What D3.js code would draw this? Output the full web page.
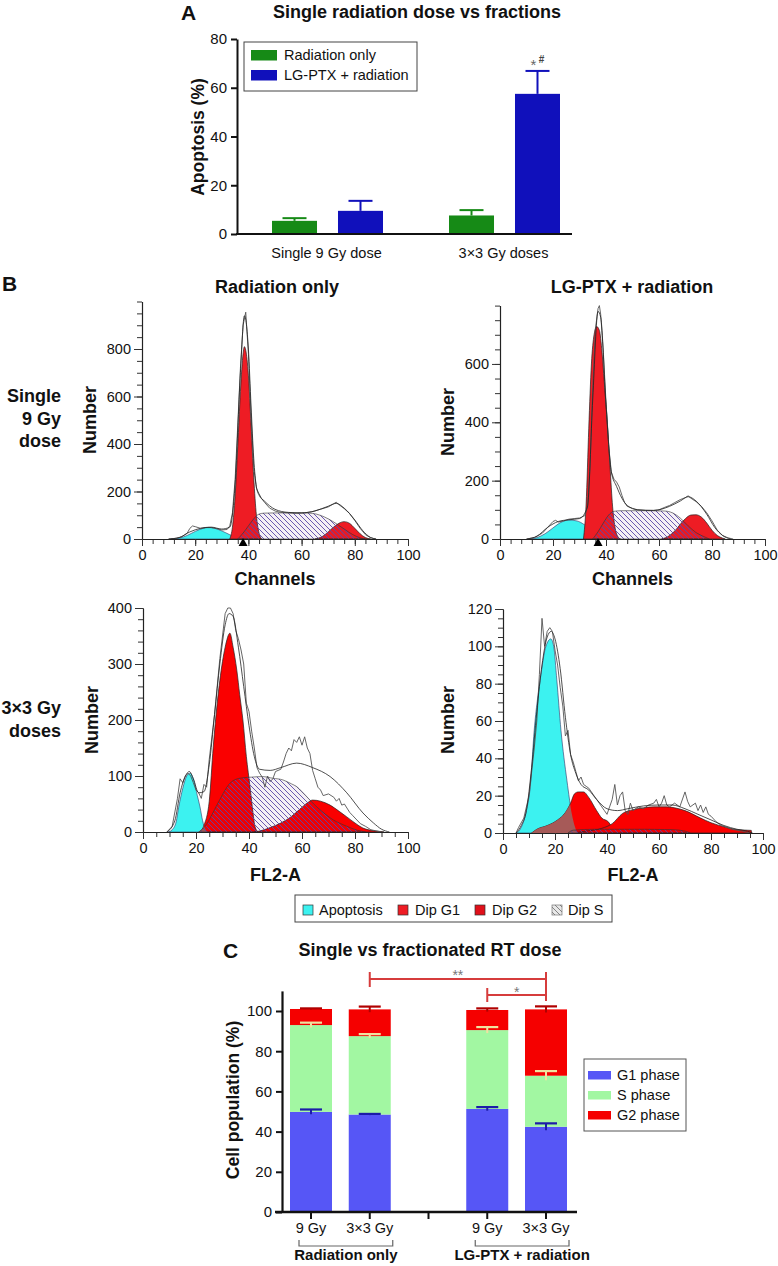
<!DOCTYPE html>
<html><head><meta charset="utf-8">
<script src="https://cdn.jsdelivr.net/npm/d3@7"></script>
<style>body{margin:0;background:#fff}</style>
</head><body>
<svg id="c" width="778" height="1266"></svg>
<script>
// ================= DATA =================
// Panel A
const aGroups = ["Single 9 Gy dose", "3×3 Gy doses"];
const aSeries = ["Radiation only", "LG-PTX + radiation"];
const aRadOnly = [5.4, 7.6];
const aRadOnlyErr = [1.1, 2.2];
const aLgPtx = [9.5, 57.5];
const aLgPtxErr = [4.1, 9.4];
const aTicks = [0, 20, 40, 60, 80];

// Panel B – histogram components [channel, count]
const bColTitles = ["Radiation only", "LG-PTX + radiation"];
const bLegend = ["Apoptosis", "Dip G1", "Dip G2", "Dip S"];
// Radiation only, single 9 Gy
const h1Apop = [[11,0],[14,4],[17,15],[20,32],[23,45],[25,49],[27,46],[30,34],[33,18],[35,8],[37,2],[39,0]];
const h1G1 = [[33,0],[34,50],[35,180],[36,390],[37,620],[38,780],[38.5,810],[39,795],[40,690],[41,480],[42,260],[43,100],[44,25],[45,0]];
const h1S = [[36,0],[38,25],[40,55],[42,85],[44,105],[46,109],[50,110],[55,110],[60,110],[64,108],[67,100],[70,85],[73,65],[76,42],[79,20],[82,5],[84,0]];
const h1G2 = [[65,0],[68,12],[70,30],[72,50],[74,66],[76,73],[78,66],[80,45],[82,22],[84,6],[86,0]];
const h1Raw = [[10,0],[13,3],[15,10],[17,25],[18,45],[19,55],[20,52],[22,45],[24,48],[26,48],[28,44],[30,38],[32,40],[33,55],[34,110],[35,250],[36,480],[37,720],[38,900],[39,955],[40,780],[41,520],[42,300],[43,215],[44,190],[45,170],[46,155],[48,130],[50,118],[52,112],[55,110],[58,108],[61,110],[64,115],[67,125],[70,135],[72,148],[73,155],[74,145],[76,128],[78,108],[80,78],[82,45],[84,18],[86,5],[88,0]];
const h1Fit = [[10,0],[14,6],[18,30],[22,45],[26,50],[30,42],[33,50],[35,230],[37,700],[38.5,940],[40,800],[41,560],[42,340],[43,220],[44,185],[46,160],[50,125],[55,112],[60,110],[65,118],[70,138],[73,150],[76,130],[80,80],[83,35],[86,6],[88,0]];
// LG-PTX + radiation, single 9 Gy
const h2Apop = [[11,0],[14,5],[17,18],[20,38],[23,57],[26,65],[29,62],[32,48],[35,25],[38,6],[40,0]];
const h2G1 = [[31.5,0],[32.5,120],[33.5,380],[34.5,600],[35.5,700],[36.5,728],[37.5,715],[38.5,640],[39.5,520],[40.5,400],[41.5,250],[42.5,110],[43.5,35],[44.5,8],[45.5,0]];
const h2S = [[35,0],[37,25],[39,55],[41,82],[43,95],[46,97],[55,97],[62,96],[65,90],[68,72],[71,45],[74,22],[77,8],[79,0]];
const h2G2 = [[61,0],[64,12],[66,28],[68,50],[70,70],[72,82],[74,83],[76,75],[78,55],[80,30],[82,12],[84,3],[85,0]];
const h2Raw = [[10,0],[13,5],[16,20],[18,40],[20,60],[21,64],[22,58],[24,62],[26,68],[28,70],[30,72],[32,80],[33,110],[34,250],[35,520],[36,720],[37,790],[37.5,800],[38,770],[39,640],[40,470],[41,320],[42,230],[43,205],[44,195],[45,178],[46,150],[47,125],[48,112],[50,105],[52,100],[55,98],[58,98],[60,100],[62,108],[64,115],[66,125],[68,135],[70,142],[71,148],[72,140],[74,128],[76,112],[78,90],[80,62],[82,30],[84,12],[86,4],[88,0]];
const h2Fit = [[10,0],[14,10],[18,40],[22,60],[26,66],[30,70],[33,110],[35,480],[37,780],[38,760],[40,460],[42,230],[44,180],[46,140],[48,115],[52,100],[58,98],[64,112],[68,130],[71,145],[74,130],[78,85],[81,40],[84,12],[87,0]];
// Radiation only, 3x3 Gy
const h3Apop = [[9.5,0],[11,4],[12.5,18],[13.5,45],[15,78],[16.5,100],[17.7,105],[19,95],[20.5,65],[21.5,45],[22.5,20],[23.5,5],[24.5,0]];
const h3G1 = [[21.5,0],[23,12],[25,55],[26.5,152],[28,230],[29,271],[31,330],[32.8,355],[34,330],[35.4,289],[36.5,245],[37.7,200],[39,135],[40.4,80],[41.5,35],[42.3,9],[43.5,0]];
const h3S = [[21,0],[23,8],[25,22],[27,40],[29,58],[31,75],[32.8,87],[35,94],[38,97],[41,98],[45,99],[49,96],[52.8,93],[56,86],[58,81],[60,72],[63,57],[66,43],[69,31],[72,21],[75,14],[78,8],[81,3],[84,0]];
const h3G2 = [[42,0],[45,3],[48,8],[52,16],[55.8,27],[59,40],[62,52],[64,57],[67,55],[70.6,48],[74,37],[76.9,27],[80,16],[83,7],[86,3],[89.5,1],[91,0]];
const h3Raw = [[9,0],[11,10],[13,60],[14,95],[15,88],[16,100],[17,105],[18,100],[19,88],[20,75],[21,70],[22,60],[23,85],[24,80],[25,130],[27,210],[29,310],[30,350],[31,390],[32,400],[33,400],[34,390],[35,360],[36,345],[37,325],[38,300],[39,230],[40,215],[41,180],[42,150],[43,115],[44,105],[45,98],[46,80],[47,100],[48,90],[49,95],[50,108],[52,112],[53,125],[54,140],[55,150],[56,145],[57,165],[58,160],[59,170],[60,155],[61,170],[62,150],[63,140],[64,110],[65,95],[66,80],[67,75],[68,65],[70,68],[72,62],[73,55],[74,60],[75,48],[76,50],[78,35],[79,30],[80,25],[82,15],[84,10],[86,4],[88,2],[90,0]];
const h3Fit = [[9,0],[12,20],[14,70],[16,100],[17.5,108],[19,95],[21,70],[23,72],[25,120],[27,210],[29,300],[31,370],[32.5,390],[34,385],[36,330],[38,260],[40,190],[42,135],[44,112],[48,110],[52,115],[58,123],[64,115],[70.6,99],[76.9,70],[83,34],[87,16],[90,5],[93,0]];
// LG-PTX + radiation, 3x3 Gy
const h4Apop = [[5,0],[7,3],[9,12],[10.5,25],[12,55],[14.3,82],[16.5,100],[18.4,104],[19.5,100],[20.7,82],[22.3,55],[24.6,28],[26.5,10],[28.5,0]];
const h4G1 = [[11,0],[13,2],[17,4],[21,7],[24,11],[26,16],[27.5,21],[29,22],[31,22],[33,19],[36,12],[38,8],[40.5,6],[42,3],[44,1],[46,0]];
const h4S = [[25,0],[27,1.5],[35,2],[45,2],[55,2],[65,1.8],[70,1],[72,0]];
const h4G2 = [[26,0],[32,1],[38,2.5],[42,5],[46,10.5],[50,12.5],[54,13.5],[58,14],[63,14],[66,13.5],[70,12],[76,8],[80,5.5],[85,3.4],[90,1.8],[94,1.5],[95.5,1.4],[95.6,0]];
const h4Raw = [[5,0],[6,3],[8,8],[10,20],[12,45],[13,60],[14,85],[15,115],[16,100],[17,108],[18,110],[19,108],[20,98],[21,90],[22,78],[23,68],[24,52],[25,55],[26,42],[27,38],[28,33],[29,28],[30,30],[31,26],[32,25],[33,24],[34,22],[35,20],[36,18],[37,16],[38,14],[39,12],[40,10],[41,14],[42,18],[43,26],[44,15],[45,20],[46,22],[47,12],[48,10],[49,16],[50,12],[52,14],[54,13],[56,15],[58,16],[59,18],[60,14],[61,16],[62,20],[63,15],[64,14],[66,16],[68,14],[70,22],[71,17],[72,14],[74,16],[75,12],[76,15],[77,11],[78,14],[79,10],[80,9],[82,6],[84,4],[86,3],[88,2],[90,1.5],[92,1],[95,0]];
const h4Fit = [[5,0],[7,4],[9,12],[11,35],[13,65],[15,90],[17,105],[18.5,108],[20,104],[22,88],[24,62],[26,42],[28,32],[30,26],[33,23],[36,18],[40,13],[44,12],[48,13],[54,14.5],[60,15],[65,15],[70,13],[75,10],[80,7],[85,4],[90,2],[94,1],[96,0]];

// Panel C
const cKeys = ["r9", "r33", "l9", "l33"];
const cLabels = ["9 Gy", "3×3 Gy", "9 Gy", "3×3 Gy"];
const cGroups = ["Radiation only", "LG-PTX + radiation"];
const cPhases = ["G1 phase", "S phase", "G2 phase"];
const cG1 = [49.8, 48.5, 51.3, 42.4];
const cG1Err = [1.2, 0.3, 0.9, 1.7];
const cS = [43.2, 39.0, 39.2, 25.4];
const cSErr = [1.2, 1.0, 1.5, 2.3];
const cG2 = [8.0, 13.3, 10.0, 33.0];
const cG2Err = [0.3, 1.4, 0.8, 1.5];
const cTicks = [0, 20, 40, 60, 80, 100];

// ================= DRAW =================
const FONT = '"Liberation Sans", Arial, Helvetica, sans-serif';
const svg = d3.select("#c");
svg.append("rect").attr("width", 778).attr("height", 1266).attr("fill", "#fff");
const defs = svg.append("defs");
function hatch(id, color, bg) {
  const p = defs.append("pattern").attr("id", id).attr("patternUnits", "userSpaceOnUse").attr("width", 5).attr("height", 5);
  if (bg) p.append("rect").attr("width", 5).attr("height", 5).attr("fill", bg);
  p.append("path").attr("d", "M0,0L5,5M-1,4L1,6M4,-1L6,1").attr("stroke", color).attr("stroke-width", 0.9);
}
hatch("hatchS", "#5a4aa8", null);
hatch("hatchLeg", "#777", "#e8e8e8");

function txt(g, x, y, s, o = {}) {
  const t = g.append("text").attr("x", x).attr("y", y).text(s)
    .attr("font-family", FONT).attr("font-size", o.size || 14)
    .attr("font-weight", o.bold ? "bold" : "normal")
    .attr("text-anchor", o.anchor || "start").attr("fill", o.fill || "#111");
  if (o.rotate) t.attr("transform", `rotate(-90,${x},${y})`);
  return t;
}

// ---------- Panel A ----------
(function () {
  const g = svg.append("g");
  const x = d3.scaleBand().domain(aGroups).range([239, 593]);
  const xin = d3.scaleBand().domain(aSeries).range([33, 144]).paddingInner(0.318);
  const y = d3.scaleLinear().domain([0, 80]).range([234, 39]);
  const colors = ["#168a16", "#1010bb"];
  const vals = [aRadOnly, aLgPtx], errs = [aRadOnlyErr, aLgPtxErr];
  aSeries.forEach((s, i) => {
    aGroups.forEach((gr, j) => {
      const x0 = x(gr) + xin(s), w = xin.bandwidth(), v = vals[i][j], e = errs[i][j];
      const cx = x0 + w / 2;
      g.append("line").attr("x1", cx).attr("x2", cx).attr("y1", y(v)).attr("y2", y(v + e)).attr("stroke", colors[i]).attr("stroke-width", 2);
      g.append("line").attr("x1", cx - 12).attr("x2", cx + 12).attr("y1", y(v + e)).attr("y2", y(v + e)).attr("stroke", colors[i]).attr("stroke-width", 2);
      g.append("rect").attr("x", x0).attr("y", y(v)).attr("width", w).attr("height", y(0) - y(v)).attr("fill", colors[i]);
    });
  });
  const ax = g.append("g").attr("transform", "translate(237,0)").call(d3.axisLeft(y).tickValues(aTicks).tickSize(6).tickSizeOuter(0).tickPadding(4));
  ax.select(".domain").attr("stroke", "#111").attr("stroke-width", 2);
  ax.selectAll(".tick line").attr("stroke", "#111").attr("stroke-width", 2);
  ax.selectAll(".tick text").attr("font-family", FONT).attr("font-size", 15).attr("fill", "#111");
  g.append("line").attr("x1", 236).attr("x2", 572).attr("y1", 234).attr("y2", 234).attr("stroke", "#111").attr("stroke-width", 2);
  aGroups.forEach(gr => txt(g, x(gr) + x.bandwidth() / 2 - 1, 258, gr, { anchor: "middle", size: 14.5 }));
  // significance
  const sx = x(aGroups[1]) + xin(aSeries[1]) + xin.bandwidth() / 2;
  txt(g, sx - 4, 70, "*", { anchor: "middle", size: 15, fill: "#666" });
  txt(g, sx + 4, 63, "#", { anchor: "middle", size: 10, fill: "#444", bold: true });
  // legend
  g.append("rect").attr("x", 244).attr("y", 42).attr("width", 173).attr("height", 49).attr("fill", "#fff").attr("stroke", "#444");
  aSeries.forEach((s, i) => {
    g.append("rect").attr("x", 251).attr("y", 50 + i * 20).attr("width", 26).attr("height", 10.5).attr("fill", colors[i]);
    txt(g, 284, 60 + i * 20, s, { size: 14.5 });
  });
  txt(g, 417, 18, "Single radiation dose vs fractions", { anchor: "middle", bold: true, size: 18 });
  txt(g, 181, 20, "A", { bold: true, size: 21 });
  txt(g, 204, 137, "Apoptosis (%)", { anchor: "middle", bold: true, size: 17.5, rotate: true });
})();

// ---------- Panel B ----------
const CYAN = "#3cf2f0", RED = "#ee1c24", BROWN = "#a65a58";
function drawHist(cfg, c) {
  const g = svg.append("g");
  const x = d3.scaleLinear().domain([0, 100]).range([cfg.x0, cfg.x100]);
  const y = d3.scaleLinear().domain([0, cfg.yMax]).range([cfg.y0, cfg.yTop]);
  const area = d3.area().x(d => x(d[0])).y0(y(0)).y1(d => y(d[1])).curve(d3.curveMonotoneX);
  const raw = d3.line().x(d => x(d[0])).y(d => y(d[1]));
  const smooth = d3.line().x(d => x(d[0])).y(d => y(d[1])).curve(d3.curveMonotoneX);
  g.append("path").attr("d", area(c.apop)).attr("fill", CYAN).attr("stroke", "#336").attr("stroke-width", 0.6);
  g.append("path").attr("d", area(c.g1)).attr("fill", c.red || RED).attr("stroke", "#222").attr("stroke-width", 0.7);
  g.append("path").attr("d", area(c.g2)).attr("fill", c.red || RED).attr("stroke", "#222").attr("stroke-width", 0.7);
  if (cfg.brown) {
    const id = "clip" + cfg.id;
    defs.append("clipPath").attr("id", id).append("path").attr("d", area(c.apop));
    g.append("path").attr("d", area(c.g1)).attr("fill", BROWN).attr("clip-path", `url(#${id})`);
    g.append("path").attr("d", area(c.s)).attr("fill", BROWN).attr("clip-path", `url(#${id})`);
  }
  g.append("path").attr("d", area(c.s)).attr("fill", "rgba(90,0,90,0.06)");
  g.append("path").attr("d", area(c.s)).attr("fill", "url(#hatchS)").attr("stroke", "#333").attr("stroke-width", 0.6);
  g.append("path").attr("d", raw(c.raw)).attr("fill", "none").attr("stroke", "#555").attr("stroke-width", 0.9);
  g.append("path").attr("d", smooth(c.fit)).attr("fill", "none").attr("stroke", "#222").attr("stroke-width", 0.8);
  // axes
  const yMinor = d3.range(0, cfg.yMax + 0.001, cfg.yMinor);
  const ayMin = g.append("g").attr("transform", `translate(${cfg.x0},0)`).call(d3.axisLeft(y).tickValues(yMinor).tickSize(5).tickSizeOuter(0).tickFormat(""));
  const ay = g.append("g").attr("transform", `translate(${cfg.x0},0)`).call(d3.axisLeft(y).tickValues(cfg.yLabels).tickSize(8).tickSizeOuter(0).tickPadding(3));
  const xMinor = d3.range(0, 100.001, cfg.xMinor);
  const axMin = g.append("g").attr("transform", `translate(0,${cfg.y0})`).call(d3.axisBottom(x).tickValues(xMinor).tickSize(5).tickSizeOuter(0).tickFormat(""));
  const ax = g.append("g").attr("transform", `translate(0,${cfg.y0})`).call(d3.axisBottom(x).tickValues([0, 20, 40, 60, 80, 100]).tickSize(7).tickSizeOuter(0).tickPadding(4));
  [ayMin, ay, axMin, ax].forEach(a => {
    a.select(".domain").attr("stroke", "#222").attr("stroke-width", 1.1);
    a.selectAll(".tick line").attr("stroke", "#333").attr("stroke-width", 1);
    a.selectAll(".tick text").attr("font-family", FONT).attr("font-size", 14.5).attr("fill", "#111");
  });
  if (cfg.tri != null) {
    const tx = x(cfg.tri);
    g.append("path").attr("d", `M${tx},${cfg.y0 - 1}l-4.5,8h9z`).attr("fill", "#000");
  }
  txt(g, (cfg.x0 + cfg.x100) / 2, cfg.xTitleY, cfg.xTitle, { anchor: "middle", bold: true, size: 18 });
  txt(g, cfg.yTitleX, cfg.yTitleY, "Number", { anchor: "middle", bold: true, size: 18, rotate: true });
}
drawHist({ id: 1, x0: 142, x100: 408, y0: 539, yMax: 1000, yTop: 301.5, yLabels: [0, 200, 400, 600, 800], yMinor: 50, xMinor: 4, xTitle: "Channels", xTitleY: 585, yTitleX: 96, yTitleY: 420, tri: 38 },
  { apop: h1Apop, g1: h1G1, s: h1S, g2: h1G2, raw: h1Raw, fit: h1Fit });
drawHist({ id: 2, x0: 500, x100: 765, y0: 539, yMax: 800, yTop: 305.6, yLabels: [0, 200, 400, 600], yMinor: 50, xMinor: 4, xTitle: "Channels", xTitleY: 585, yTitleX: 454, yTitleY: 422, tri: 37 },
  { apop: h2Apop, g1: h2G1, s: h2S, g2: h2G2, raw: h2Raw, fit: h2Fit });
drawHist({ id: 3, x0: 143, x100: 408, y0: 832, yMax: 400, yTop: 608, yLabels: [0, 100, 200, 300, 400], yMinor: 20, xMinor: 5, xTitle: "FL2-A", xTitleY: 881, yTitleX: 98, yTitleY: 720, brown: true },
  { apop: h3Apop, g1: h3G1, s: h3S, g2: h3G2, raw: h3Raw, fit: h3Fit, red: "#fa0000" });
drawHist({ id: 4, x0: 503, x100: 763, y0: 833, yMax: 120, yTop: 609, yLabels: [0, 20, 40, 60, 80, 100, 120], yMinor: 5, xMinor: 5, xTitle: "FL2-A", xTitleY: 881, yTitleX: 454, yTitleY: 720, brown: true },
  { apop: h4Apop, g1: h4G1, s: h4S, g2: h4G2, raw: h4Raw, fit: h4Fit, red: "#fa0000" });

(function () {
  const g = svg.append("g");
  txt(g, 2, 291, "B", { bold: true, size: 21 });
  txt(g, 277, 293, bColTitles[0], { anchor: "middle", bold: true, size: 18 });
  txt(g, 632, 293, bColTitles[1], { anchor: "middle", bold: true, size: 18 });
  [["Single", 402], ["9 Gy", 425], ["dose", 447]].forEach(d => txt(g, 61, d[1], d[0], { anchor: "end", bold: true, size: 18 }));
  [["3×3 Gy", 714], ["doses", 737]].forEach(d => txt(g, 61, d[1], d[0], { anchor: "end", bold: true, size: 18 }));
  // legend
  g.append("rect").attr("x", 295).attr("y", 895).attr("width", 317).attr("height", 27).attr("fill", "#fff").attr("stroke", "#444");
  const fills = [CYAN, RED, "#e0101a", "url(#hatchLeg)"];
  const sw = [303, 398, 475, 552], tx = [319, 415, 492, 568];
  bLegend.forEach((s, i) => {
    g.append("rect").attr("x", sw[i]).attr("y", 905).attr("width", 10).attr("height", 10).attr("fill", fills[i]).attr("stroke", i === 3 ? "#777" : "#333").attr("stroke-width", 0.7);
    txt(g, tx[i], 915, s, { size: 14.5 });
  });
})();

// ---------- Panel C ----------
(function () {
  const g = svg.append("g");
  const x = d3.scalePoint().domain(["r9", "r33", "sep", "l9", "l33"]).range([311, 546]);
  const bw = 42;
  const y = d3.scaleLinear().domain([0, 110]).range([1212, 990.9]);
  const cols = ["#5656f6", "#a2f7a2", "#f50000"];
  const errCols = ["#1c1ca8", "#f0e2a0", "#b00000"];
  const segs = [cG1, cS, cG2], segErr = [cG1Err, cSErr, cG2Err];
  cKeys.forEach((k, i) => {
    let base = 0;
    const cx = x(k);
    const tops = [];
    segs.forEach((arr, j) => {
      const v = arr[i];
      g.append("rect").attr("x", cx - bw / 2).attr("y", y(base + v)).attr("width", bw).attr("height", y(base) - y(base + v)).attr("fill", cols[j]);
      base += v;
      tops.push(base);
    });
    segs.forEach((arr, j) => {
      const t = tops[j], e = segErr[j][i];
      g.append("line").attr("x1", cx).attr("x2", cx).attr("y1", y(t - e)).attr("y2", y(t + e)).attr("stroke", errCols[j]).attr("stroke-width", 2);
      g.append("line").attr("x1", cx - 11).attr("x2", cx + 11).attr("y1", y(t + e)).attr("y2", y(t + e)).attr("stroke", errCols[j]).attr("stroke-width", 2.2);
    });
  });
  const ay = g.append("g").attr("transform", "translate(282,0)").call(d3.axisLeft(y).tickValues(cTicks).tickSize(6).tickSizeOuter(0).tickPadding(4));
  ay.select(".domain").attr("stroke", "#111").attr("stroke-width", 2.2);
  ay.selectAll(".tick line").attr("stroke", "#111").attr("stroke-width", 2);
  ay.selectAll(".tick text").attr("font-family", FONT).attr("font-size", 15).attr("fill", "#111");
  g.append("line").attr("x1", 275).attr("x2", 577).attr("y1", 1212).attr("y2", 1212).attr("stroke", "#111").attr("stroke-width", 2.5);
  x.domain().forEach(k => g.append("line").attr("x1", x(k)).attr("x2", x(k)).attr("y1", 1212).attr("y2", 1219).attr("stroke", "#111").attr("stroke-width", 2));
  cKeys.forEach((k, i) => txt(g, x(k), 1233, cLabels[i], { anchor: "middle", size: 14.5 }));
  // group brackets
  [[0, 1], [2, 3]].forEach((p, i) => {
    const x1 = x(cKeys[p[0]]) - 12, x2 = x(cKeys[p[1]]) + 23;
    g.append("path").attr("d", `M${x1},1240V1246H${x2}V1240`).attr("fill", "none").attr("stroke", "#666").attr("stroke-width", 1.2);
    txt(g, (x1 + x2) / 2, 1260, cGroups[i], { anchor: "middle", bold: true, size: 15 });
  });
  // significance brackets
  const bc = "#d63c3c";
  const xa = x("r33"), xb = x("l9"), xc = x("l33");
  g.append("path").attr("d", `M${xa},972V987M${xa},979H${xc}M${xc},972V1001`).attr("stroke", bc).attr("stroke-width", 2).attr("fill", "none");
  g.append("path").attr("d", `M${xb},988V1002M${xb},995H${xc}`).attr("stroke", bc).attr("stroke-width", 2).attr("fill", "none");
  txt(g, (xa + xc) / 2, 980, "**", { anchor: "middle", size: 14, fill: "#777" });
  txt(g, (xb + xc) / 2, 997, "*", { anchor: "middle", size: 14, fill: "#777" });
  // legend
  g.append("rect").attr("x", 584).attr("y", 1059).attr("width", 102).attr("height", 72).attr("fill", "#fff").attr("stroke", "#555");
  cPhases.forEach((s, i) => {
    g.append("rect").attr("x", 588).attr("y", 1071 + i * 20).attr("width", 23).attr("height", 8.5).attr("fill", cols[i]);
    txt(g, 617, 1080 + i * 20, s, { size: 14.5 });
  });
  txt(g, 430, 956, "Single vs fractionated RT dose", { anchor: "middle", bold: true, size: 18 });
  txt(g, 223, 958, "C", { bold: true, size: 21 });
  txt(g, 239, 1100, "Cell population (%)", { anchor: "middle", bold: true, size: 17.5, rotate: true });
})();
</script>
</body></html>
